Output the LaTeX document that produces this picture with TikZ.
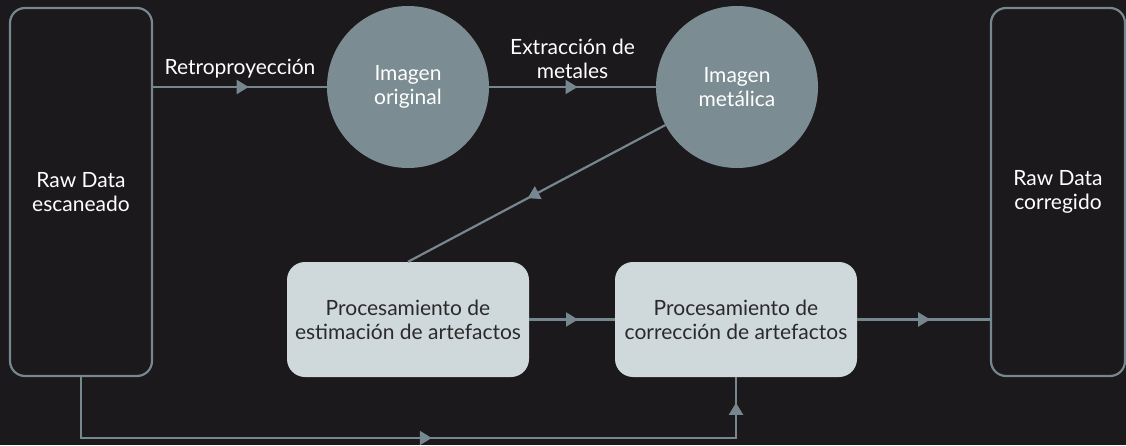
\documentclass[tikz,border=0pt]{standalone}
\usepackage{fontspec}
\setmainfont{Lato}
\usepackage{xcolor}
\usetikzlibrary{arrows.meta,decorations.markings}

\definecolor{bgdark}{HTML}{1B191B}
\definecolor{linegray}{HTML}{76878F}
\definecolor{circfill}{HTML}{7B8C93}
\definecolor{boxfill}{HTML}{CFD8DB}
\definecolor{boxtext}{HTML}{2A2A2A}

\begin{document}
\begin{tikzpicture}[x=1pt,y=1pt,
  font=\fontsize{21}{24}\selectfont,
  link/.style={line width=2.2pt,linegray},
  midarr/.style={postaction={decorate},decoration={markings,
    mark=at position #1 with {\arrow{Triangle[length=12pt,width=14pt]}}}},
  midarr/.default=0.55,
  rawbox/.style={draw=linegray,line width=2.2pt,rounded corners=15pt,
    minimum width=142pt,minimum height=368pt,text=white,align=center},
  imgcirc/.style={circle,fill=circfill,minimum size=162pt,inner sep=0pt,
    text=white,align=center},
  procbox/.style={fill=boxfill,rounded corners=18pt,minimum width=242pt,
    minimum height=115pt,text=boxtext,align=center}]
  % Background
  \fill[bgdark] (0,0) rectangle (1126,445);
  \useasboundingbox (0,0) rectangle (1126,445);

  % Raw data boxes
  \node[rawbox] (rawin)  at (81,253)  {Raw Data\\escaneado};
  \node[rawbox,minimum width=134pt] (rawout) at (1058,253) {Raw Data\\corregido};

  % Images
  \node[imgcirc] (orig)  at (408,358) {Imagen\\original};
  \node[imgcirc] (metal) at (737,358) {Imagen\\metálica};

  % Processing steps
  \node[procbox] (estim) at (408,125.5) {Procesamiento de\\estimación de artefactos};
  \node[procbox] (corr)  at (736,125.5) {Procesamiento de\\corrección de artefactos};

  % Top row
  \draw[link,midarr] (rawin.east |- orig) -- (orig)
    node[midway,above=4pt,text=white] (retro) {Retroproyección};
  \draw[link,midarr=0.53] (orig) -- (metal)
    node[midway,above=4pt,text=white,align=center] (extr) {Extracción de\\metales};
  \draw[link,midarr=0.535] (metal) -- (estim.north);

  % Bottom row
  \draw[link,midarr=0.57] (estim) -- (corr);
  \draw[link,midarr] (corr.east) -- (corr.east -| rawout.west);
  \draw[link,postaction={decorate},decoration={markings,
      mark=at position 0.53 with {\arrow{Triangle[length=12pt,width=14pt]}},
      mark=at position 0.967 with {\arrow{Triangle[length=12pt,width=14pt]}}}]
    (rawin.south) -- (rawin.south |- 0,7) -- (corr.south |- 0,7) -- (corr.south);
\end{tikzpicture}
\end{document}
